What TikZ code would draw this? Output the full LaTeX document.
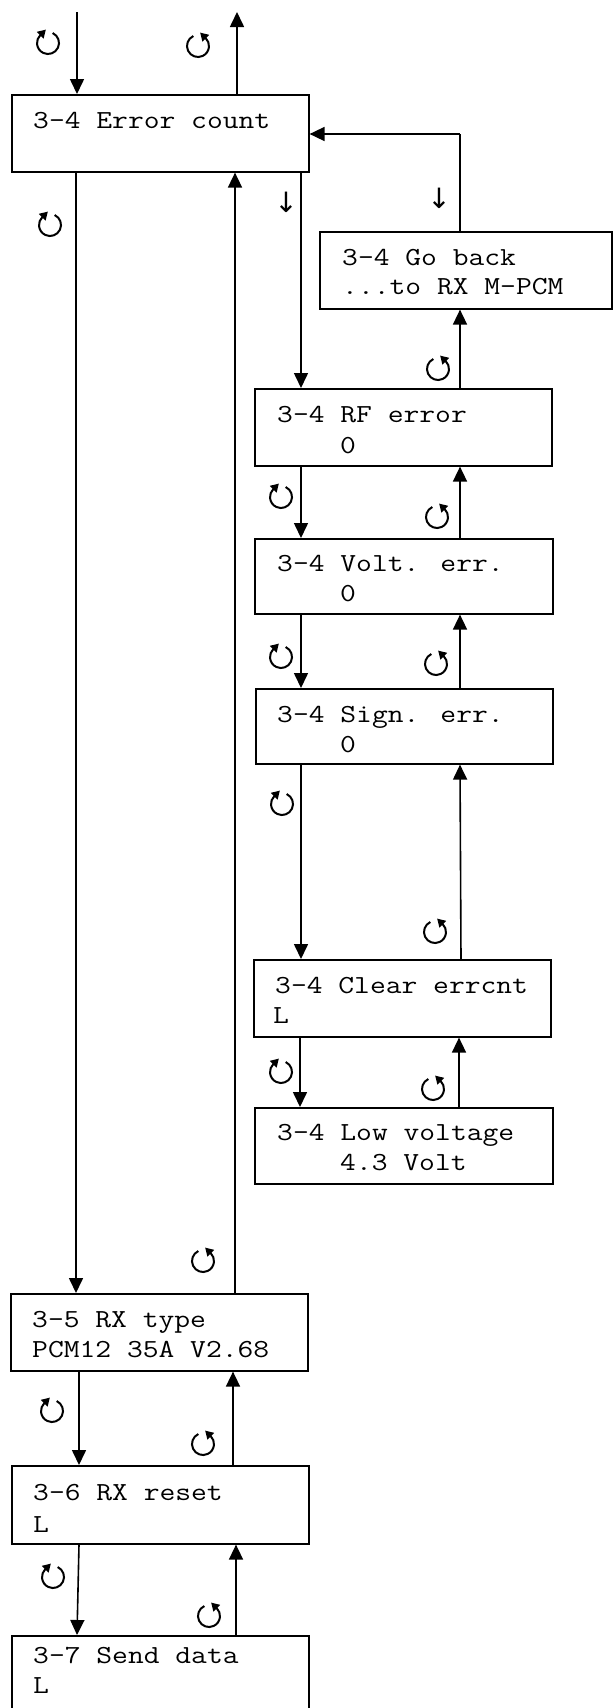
\documentclass[tikz,border=0pt]{standalone}
\usepackage{fontspec}
\newfontfamily\courfont{Latin Modern Mono}[FakeStretch=1.18]
\newfontfamily\symfont{DejaVu Sans}
\usetikzlibrary{arrows.meta}
\tikzset{
  box/.style={draw, line width=1.6pt, minimum width=297pt, minimum height=77pt, anchor=north west, inner sep=0pt},
  txt/.style={anchor=base west, inner sep=0pt, font=\fontsize{26}{30}\selectfont\courfont},
  dn/.style={inner sep=0pt, font=\fontsize{28}{28}\selectfont\symfont},
  arr/.style={line width=1.6pt, -{Triangle[length=15pt,width=14pt]}},
  ln/.style={line width=1.6pt},
  symline/.style={line width=2pt, -{Triangle[length=8pt,width=9pt]}},
  cwmark/.pic={\draw[symline] (65:11pt) arc[start angle=65,end angle=-225,radius=11pt] -- ++(45:8pt);},
  ccwmark/.pic={\draw[symline] (115:11pt) arc[start angle=115,end angle=405,radius=11pt] -- ++(135:8pt);}
}
\begin{document}
\begin{tikzpicture}[x=1pt,y=-1pt]
\useasboundingbox (0,0) rectangle (613,1708);
\clip (0,0) rectangle (613,1708);
% boxes
\node[box] (ec) at (11,94) {};
\node[box, minimum width=292pt] (gb) at (319,231) {};
\node[box] (rf) at (254,388) {};
\node[box, minimum width=298pt, minimum height=75pt] (volt) at (254,538) {};
\node[box, minimum width=297pt, minimum height=75pt] (sign) at (255,688) {};
\node[box] (clear) at (253,959) {};
\node[box, minimum width=298pt, minimum height=76pt] (low) at (254,1107) {};
\node[box] (rx) at (10,1293) {};
\node[box, minimum height=78pt] (reset) at (11,1465) {};
\node[box] (send) at (11,1635) {};
% texts
\node[txt] (t1) at (33,128) {3-4 Error count};
\node[txt] (t2) at (342,265) {3-4 Go back};
\node[txt] (t3) at (342,294) {...to RX M-PCM};
\node[txt] (t4) at (277,422) {3-4 RF error};
\node[txt] (t5) at (340,453) {0};
\node[txt] (t6) at (277,571) {3-4 Volt. err.};
\node[txt] (t7) at (340,601) {0};
\node[txt] (t8) at (277,722) {3-4 Sign. err.};
\node[txt] (t9) at (340,752) {0};
\node[txt] (t10) at (275,993) {3-4 Clear errcnt};
\node[txt] (t11) at (273,1023) {L};
\node[txt] (t12) at (277,1140) {3-4 Low voltage};
\node[txt] (t13) at (340,1170) {4.3 Volt};
\node[txt] (t14) at (32,1327) {3-5 RX type};
\node[txt] (t15) at (32,1357) {PCM12 35A V2.68};
\node[txt] (t16) at (33,1500) {3-6 RX reset};
\node[txt] (t17) at (33,1532) {L};
\node[txt] (t18) at (33,1663) {3-7 Send data};
\node[txt] (t19) at (33,1693) {L};
% free ends
\coordinate (in) at (77,12);
\coordinate (out) at (237,12);
\coordinate (corner) at (460,134);
% connectors
\draw[arr] (in) -- ([xshift=66pt]ec.north west);
\draw[arr] ([xshift=226pt]ec.north west) -- (out);
\draw[arr] ([xshift=65pt]ec.south west) -- ([xshift=66pt]rx.north west);
\draw[arr] ([xshift=225pt]rx.north west) -- ([xshift=224pt]ec.south west);
\draw[arr] ([xshift=290pt]ec.south west) -- ([xshift=47pt]rf.north west);
\draw[ln] ([xshift=141pt]gb.north west) -- (corner);
\draw[arr] (corner) -- (ec.east |- corner);
\draw[arr] ([xshift=206pt]rf.north west) -- ([xshift=141pt]gb.south west);
\draw[arr] ([xshift=47pt]rf.south west) -- ([xshift=47pt]volt.north west);
\draw[arr] ([xshift=206pt]volt.north west) -- ([xshift=206pt]rf.south west);
\draw[arr] ([xshift=47pt]volt.south west) -- ([xshift=46pt]sign.north west);
\draw[arr] ([xshift=205pt]sign.north west) -- ([xshift=206pt]volt.south west);
\draw[arr] ([xshift=46pt]sign.south west) -- ([xshift=48pt]clear.north west);
\draw[arr] ([xshift=208pt]clear.north west) -- ([xshift=205pt]sign.south west);
\draw[arr] ([xshift=47pt]clear.south west) -- ([xshift=46pt]low.north west);
\draw[arr] ([xshift=205pt]low.north west) -- ([xshift=206pt]clear.south west);
\draw[arr] ([xshift=69pt]rx.south west) -- ([xshift=68pt]reset.north west);
\draw[arr] ([xshift=222pt]reset.north west) -- ([xshift=223pt]rx.south west);
\draw[arr] ([xshift=68pt]reset.south west) -- ([xshift=66pt]send.north west);
\draw[arr] ([xshift=225pt]send.north west) -- ([xshift=225pt]reset.south west);
% small down arrows
\node[dn] (d1) at (286,202) {↓};
\node[dn] (d2) at (439,198) {↓};
% rotation marks
\pic (r1) at (48,43) {cwmark};
\pic (r2) at (198,46) {ccwmark};
\pic (r3) at (50,225) {cwmark};
\pic (r4) at (438,369) {ccwmark};
\pic (r5) at (281,497) {cwmark};
\pic (r6) at (437,517) {ccwmark};
\pic (r7) at (281,657) {cwmark};
\pic (r8) at (436,664) {ccwmark};
\pic (r9) at (282,804) {cwmark};
\pic (r10) at (435,932) {ccwmark};
\pic (r11) at (281,1072) {cwmark};
\pic (r12) at (433,1089) {ccwmark};
\pic (r13) at (203,1261) {ccwmark};
\pic (r14) at (52,1411) {cwmark};
\pic (r15) at (203,1444) {ccwmark};
\pic (r16) at (53,1577) {cwmark};
\pic (r17) at (209,1616) {ccwmark};
\end{tikzpicture}
\end{document}
